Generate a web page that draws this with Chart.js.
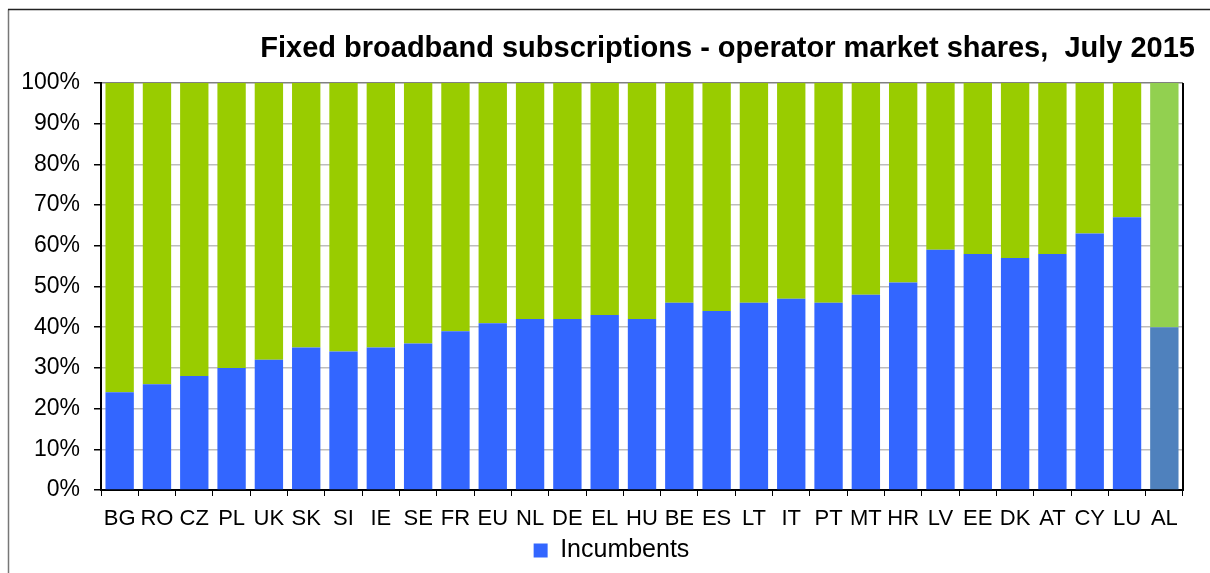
<!DOCTYPE html>
<html>
<head>
    <title>Fixed broadband subscriptions - operator market shares, July 2015</title>
    <script src="https://cdn.jsdelivr.net/npm/chart.js"></script>
    <style>
        body { margin: 0; background: #fff; }
    </style>
</head>
<body>
    <canvas id="myChart" width="1210" height="573"></canvas>
    <script>
        const chartTitle = 'Fixed broadband subscriptions - operator market shares,  July 2015';
        const countries = ['BG', 'RO', 'CZ', 'PL', 'UK', 'SK', 'SI', 'IE', 'SE', 'FR', 'EU', 'NL', 'DE', 'EL', 'HU',
            'BE', 'ES', 'LT', 'IT', 'PT', 'MT', 'HR', 'LV', 'EE', 'DK', 'AT', 'CY', 'LU', 'AL'];
        const incumbents = [24, 26, 28, 30, 32, 35, 34, 35, 36, 39, 41, 42, 42, 43, 42,
            46, 44, 46, 47, 46, 48, 51, 59, 58, 57, 58, 63, 67, 40];
        const others = [76, 74, 72, 70, 68, 65, 66, 65, 64, 61, 59, 58, 58, 57, 58,
            54, 56, 54, 53, 54, 52, 49, 41, 42, 43, 42, 37, 33, 60];
        const yTicks = [0, 10, 20, 30, 40, 50, 60, 70, 80, 90, 100];

        const FONT = "'Liberation Sans', Arial, sans-serif";

        // AL is drawn in a different shade
        const blueColors = countries.map(c => c === 'AL' ? '#4F81BD' : '#3366FF');
        const greenColors = countries.map(c => c === 'AL' ? '#92D050' : '#99CC00');

        // title, outer frame and right edge of the plot
        const decorations = {
            id: 'decorations',
            afterLayout(chart) {
                // legend sits a little right of the page centre
                if (chart.legend) {
                    chart.legend.left += 20;
                    chart.legend.right += 20;
                }
            },
            afterDraw(chart) {
                const ctx = chart.ctx;
                const area = chart.chartArea;
                ctx.save();
                ctx.strokeStyle = '#777';
                ctx.lineWidth = 1.5;
                ctx.beginPath();
                ctx.moveTo(8.5, 573);
                ctx.lineTo(8.5, 9.5);
                ctx.stroke();
                ctx.strokeStyle = '#222';
                ctx.beginPath();
                ctx.moveTo(8, 9.5);
                ctx.lineTo(1210, 9.5);
                ctx.stroke();

                ctx.strokeStyle = '#000';
                ctx.lineWidth = 2;
                ctx.beginPath();
                ctx.moveTo(area.right, area.top);
                ctx.lineTo(area.right, area.bottom);
                ctx.stroke();

                ctx.fillStyle = '#000';
                ctx.font = 'bold 29px ' + FONT;
                ctx.textAlign = 'right';
                ctx.textBaseline = 'alphabetic';
                ctx.fillText(chartTitle, 1195, 57);
                ctx.restore();
            }
        };

        const ctx = document.getElementById('myChart').getContext('2d');
        const myChart = new Chart(ctx, {
            type: 'bar',
            data: {
                labels: countries,
                datasets: [{
                    label: 'Incumbents',
                    data: incumbents,
                    backgroundColor: blueColors,
                    barPercentage: 0.76,
                    categoryPercentage: 1.0
                }, {
                    label: 'Others',
                    data: others,
                    backgroundColor: greenColors,
                    barPercentage: 0.76,
                    categoryPercentage: 1.0
                }]
            },
            options: {
                responsive: false,
                animation: false,
                layout: {
                    padding: { top: 83, left: 0, right: 27, bottom: 0 }
                },
                plugins: {
                    title: { display: false },
                    tooltip: { enabled: false },
                    legend: {
                        position: 'bottom',
                        labels: {
                            filter: item => item.datasetIndex === 0,
                            color: '#000',
                            font: { family: FONT, size: 25 },
                            boxWidth: 14,
                            boxHeight: 14,
                            padding: 4
                        }
                    }
                },
                scales: {
                    x: {
                        stacked: true,
                        afterFit: scale => { scale.height = 44; },
                        grid: {
                            offset: true,
                            drawOnChartArea: false,
                            drawTicks: true,
                            tickLength: 6,
                            color: '#000',
                            tickColor: '#000'
                        },
                        border: { color: '#000', width: 2 },
                        ticks: {
                            color: '#000',
                            padding: 10,
                            autoSkip: false,
                            maxRotation: 0,
                            font: { family: FONT, size: 22 }
                        }
                    },
                    y: {
                        stacked: true,
                        min: 0,
                        max: 100,
                        afterFit: scale => { scale.width = 101; },
                        afterBuildTicks: scale => {
                            scale.ticks = yTicks.map(v => ({ value: v }));
                        },
                        grid: {
                            color: c => c.tick && c.tick.value === 100 ? '#808080' : '#BDBDBD',
                            lineWidth: 1.5,
                            tickLength: 7,
                            tickColor: '#000'
                        },
                        border: { color: '#000', width: 2 },
                        ticks: {
                            color: '#000',
                            padding: 14,
                            font: { family: FONT, size: 23 },
                            callback: v => v + '%'
                        }
                    }
                }
            },
            plugins: [decorations]
        });
    </script>
</body>
</html>
